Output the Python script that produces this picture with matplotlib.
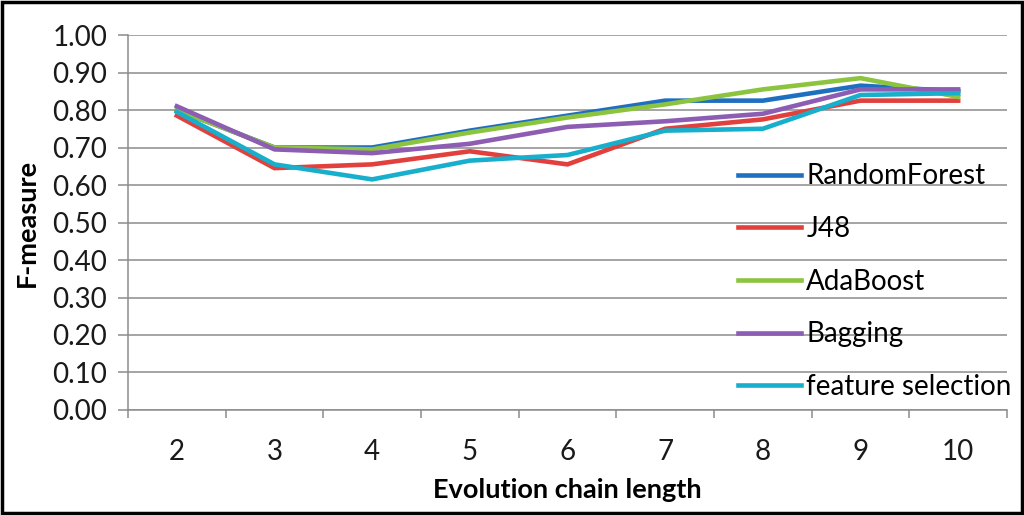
import matplotlib
matplotlib.use("Agg")
import matplotlib.pyplot as plt
from matplotlib.patches import Rectangle

## chain lengths on the x axis
chain_length = [2, 3, 4, 5, 6, 7, 8, 9, 10]

## F-measure per classifier
random_forest = [0.800, 0.700, 0.700, 0.745, 0.785, 0.825, 0.825, 0.865, 0.850]
j48 = [0.785, 0.645, 0.655, 0.690, 0.655, 0.750, 0.775, 0.825, 0.825]
ada_boost = [0.800, 0.700, 0.695, 0.740, 0.780, 0.815, 0.855, 0.885, 0.835]
bagging = [0.810, 0.695, 0.685, 0.710, 0.755, 0.770, 0.790, 0.855, 0.855]
feature_selection = [0.795, 0.655, 0.615, 0.665, 0.680, 0.745, 0.750, 0.840, 0.845]

series_names = ["RandomForest", "J48", "AdaBoost", "Bagging", "feature selection"]
colors = ["#1f6fc1", "#e2403c", "#8cc43f", "#8c5db3", "#17afcc"]

y_ticks = [0.0, 0.1, 0.2, 0.3, 0.4, 0.5, 0.6, 0.7, 0.8, 0.9, 1.0]

plt.rcParams["font.family"] = ["Lato", "DejaVu Sans"]

fig = plt.figure(figsize=(10.24, 5.15), dpi=100)
ax = fig.add_axes([0.125, 0.2039, 0.8584, 0.7281])

all_series = [random_forest, j48, ada_boost, bagging, feature_selection]
for values, name, col in zip(all_series, series_names, colors):
    ax.plot(chain_length, values, color=col, lw=3.3, label=name,
            solid_joinstyle="miter", zorder=3)

ax.set_xlim(1.5, 10.5)
ax.set_ylim(0, 1.0)
ax.set_yticks(y_ticks)
ax.set_yticklabels(["%.2f" % v for v in y_ticks])
ax.set_xticks(chain_length)
ax.set_xticks([c - 0.5 for c in chain_length] + [10.5], minor=True)

grid_col = "#8c8c8c"
ax.grid(axis="y", color=grid_col, lw=1.1, zorder=0)
for side in ["top", "right"]:
    ax.spines[side].set_visible(False)
for side in ["left", "bottom"]:
    ax.spines[side].set_color(grid_col)
    ax.spines[side].set_linewidth(1.1)

ax.tick_params(axis="y", length=7, width=1.1, color=grid_col, pad=8,
               labelsize=20, labelcolor="#1a1a1a")
ax.tick_params(axis="x", which="major", length=0, pad=21,
               labelsize=20, labelcolor="#1a1a1a")
ax.tick_params(axis="x", which="minor", length=6, width=1.1, color=grid_col)

ax.set_ylabel("F-measure", fontsize=19.5, fontweight="bold", labelpad=10)
ax.set_xlabel("Evolution chain length", fontsize=19.5, fontweight="bold", labelpad=9)

ax.legend(loc="upper left", bbox_to_anchor=(0.721, 0.683),
          bbox_transform=fig.transFigure, frameon=False, fontsize=20,
          handlelength=2.25, handletextpad=0.2, labelspacing=0.96,
          borderpad=0, borderaxespad=0)

## outer frame
fig.patches.append(Rectangle((0.002, 0.003), 0.996, 0.994, transform=fig.transFigure,
                             fill=False, edgecolor="black", lw=2.5))

fig.savefig("out.png", dpi=100)
